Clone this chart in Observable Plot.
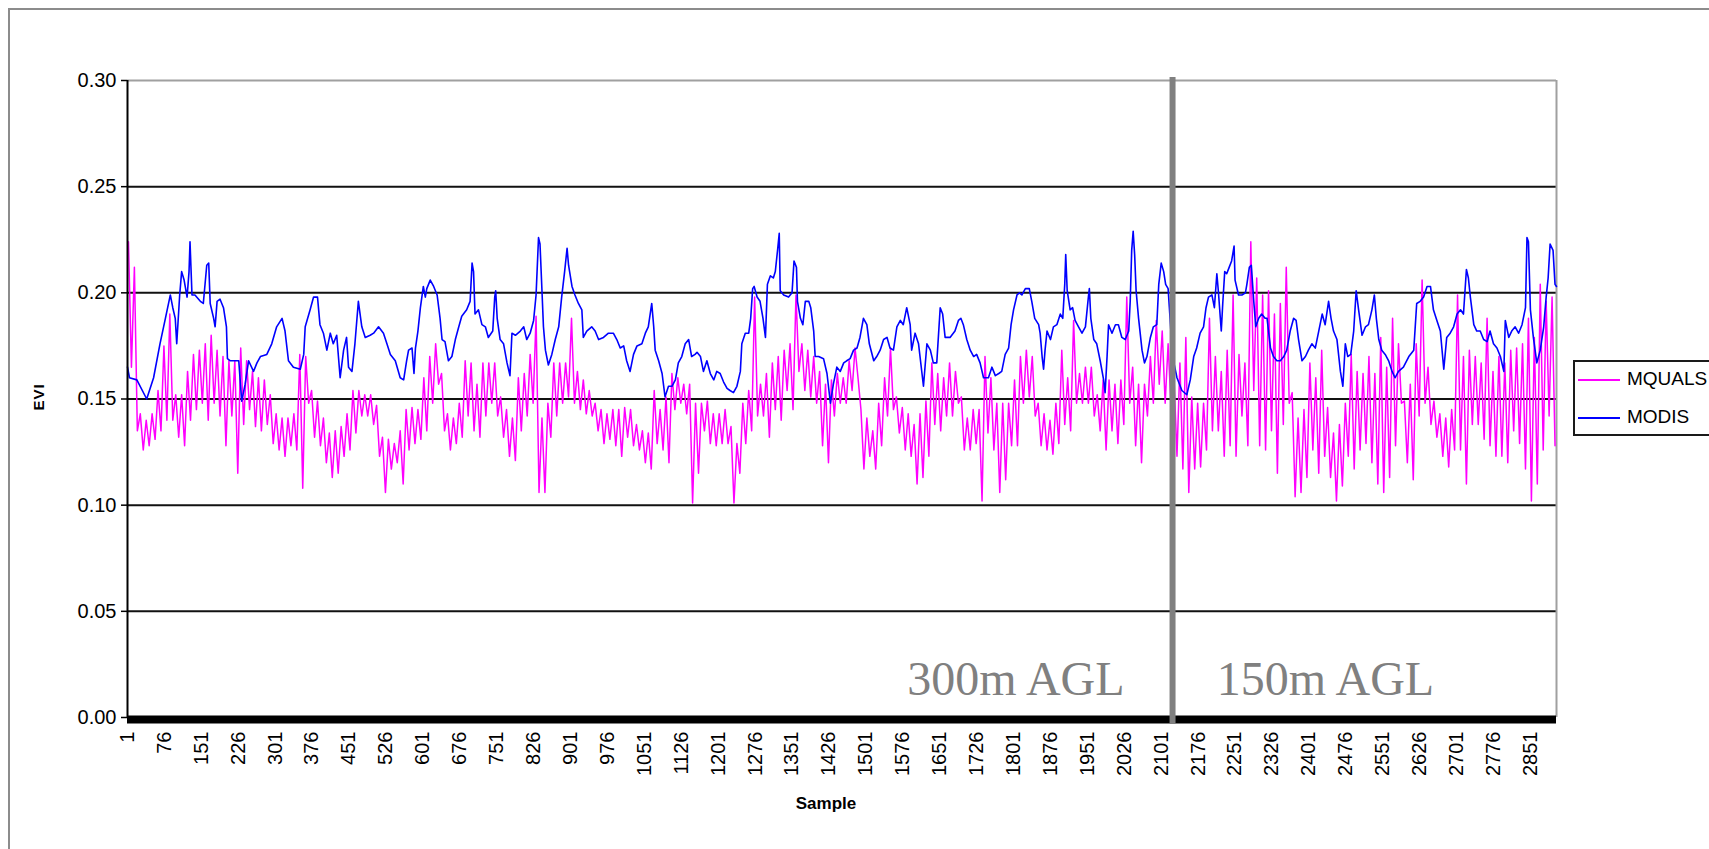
<!DOCTYPE html>
<html>
<head>
<meta charset="utf-8">
<script src="https://cdn.jsdelivr.net/npm/d3@7"></script>
<script src="https://cdn.jsdelivr.net/npm/@observablehq/plot@0.6"></script>
<style>
  html, body { margin: 0; padding: 0; background: #fff; overflow: hidden; }
  #wrap { position: relative; width: 1709px; height: 849px; overflow: hidden; }
  #frame { position: absolute; left: 8px; top: 8px; width: 1800px; height: 900px;
           border: 2px solid #8c8c8c; box-sizing: border-box; }
  #chart { position: absolute; left: 0; top: 0; }
  .lbl { position: absolute; font-family: "Liberation Sans", Arial, sans-serif; font-weight: bold; color: #000; white-space: nowrap; }
  #ylab { left: 38px; top: 397px; font-size: 15px; transform: translate(-50%, -50%) rotate(-90deg); letter-spacing: 1px; }
  #xlab { left: 826px; top: 804px; font-size: 17px; transform: translate(-50%, -50%); }
  #legend { position: absolute; left: 1573px; top: 360px; width: 200px; height: 76px;
            border: 2px solid #1a1a1a; box-sizing: border-box; background: #fff;
            font-family: "Liberation Sans Narrow", "Arial Narrow", "Liberation Sans", Arial, sans-serif; font-size: 19px; }
  .item { position: absolute; left: 3px; height: 20px; }
  .item .sw { position: absolute; left: 0; top: 9px; width: 42px; height: 0; border-top: 2px solid; }
  .item .tx { position: absolute; left: 49px; top: -1px; line-height: 20px; }
</style>
</head>
<body>
<div id="wrap">
  <div id="frame"></div>
  <div id="chart"></div>
  <div class="lbl" id="ylab">EVI</div>
  <div class="lbl" id="xlab">Sample</div>
  <div id="legend"></div>
</div>
<script>
// Series names and colours
const seriesNames = ["MQUALS", "MODIS"];
const seriesColors = ["#ff00ff", "#0000ff"];

// Axis ticks
const yTicks = [0, 0.05, 0.10, 0.15, 0.20, 0.25, 0.30];
const xTicks = [1, 76, 151, 226, 301, 376, 451, 526, 601, 676, 751, 826, 901, 976, 1051, 1126, 1201,
  1276, 1351, 1426, 1501, 1576, 1651, 1726, 1801, 1876, 1951, 2026, 2101, 2176, 2251, 2326, 2401,
  2476, 2551, 2626, 2701, 2776, 2851];
const sampleCount = 2904;

// Flight altitude change (sample where 300 m AGL switches to 150 m AGL)
const altitudeSwitch = 2124;
const altitudeLabels = [
  { text: "300m AGL", sample: 1585, evi: 0.0105 },
  { text: "150m AGL", sample: 2214, evi: 0.0105 }
];

// MODIS EVI (x1000) at the listed sample numbers
const modisSample = [1,5,20,40,54,67,78,88,93,98,101,107,111,116,122,126,128,132,138,149,155,162,166,169,176,179,183,189,196,202,204,210,227,233,240,247,257,264,271,284,294,304,315,321,328,338,352,359,362,372,379,387,392,399,406,413,419,426,433,440,446,450,457,463,470,477,484,494,501,511,521,528,535,545,555,562,568,
  572,579,583,586,591,596,602,606,609,616,623,630,636,640,646,653,660,667,674,680,690,697,701,704,707,714,721,728,734,743,747,749,752,758,765,772,778,782,789,799,806,812,819,826,831,836,839,843,846,850,856,863,870,877,883,889,894,897,904,910,917,924,927,934,944,951,958,968,978,988,995,1002,1009,1015,1022,1029,1036,1046,1053,1059,1066,1070,1073,1080,1087,1093,1100,1107,1114,1120,1127,1134,1141,1147,1154,
  1158,1165,1171,1178,1185,1192,1198,1205,1212,1219,1225,1232,1239,1246,1249,1256,1263,1267,1271,1274,1280,1286,1292,1297,1301,1307,1313,1317,1322,1325,1327,1334,1344,1351,1355,1360,1362,1368,1373,1378,1385,1389,1395,1398,1405,1415,1422,1429,1435,1442,1449,1456,1462,1469,1476,1483,1489,1496,1503,1508,1517,1523,1530,1537,1544,1550,1557,1564,1571,1577,1584,1591,1594,1601,1608,1615,1618,1625,1632,1638,1645,1652,1657,1662,1672,1682,1689,1694,1699,1706,1713,1720,1726,1733,1740,
  1744,1750,1757,1764,1771,1777,1784,1791,1796,1801,1808,1813,1818,1825,1833,1838,1844,1852,1855,1859,1862,1865,1869,1876,1882,1889,1896,1901,1905,1907,1910,1916,1921,1926,1933,1940,1947,1953,1955,1958,1964,1970,1977,1984,1987,1991,1994,2001,2008,2014,2021,2028,2035,2038,2041,2044,2047,2050,2055,2062,2067,2072,2079,2085,2092,2096,2101,2106,2110,2115,2124,2133,2143,2153,2160,2167,2173,2180,2187,2192,2197,2204,2209,2214,2217,2223,2226,2230,2234,2239,2244,2249,2251,2258,2265,2272,2275,2280,2284,2289,2293,2299,2305,2312,
  2316,2323,2329,2336,2343,2350,2356,2363,2370,2375,2380,2387,2394,2400,2407,2414,2421,2428,2434,2441,2446,2451,2458,2465,2470,2475,2480,2486,2492,2497,2502,2509,2516,2522,2529,2534,2538,2543,2549,2556,2563,2570,2576,2583,2593,2604,2614,2620,2627,2634,2641,2648,2654,2661,2668,2675,2681,2688,2695,2702,2709,2715,2721,2725,2729,2736,2742,2749,2756,2763,2769,2776,2783,2790,2797,2800,2807,2813,2820,2827,2834,2841,2844,2847,2851,2857,2864,2871,2878,2883,2887,2891,2897,2901,2904];
const modisEvi = [165,160,159,150,160,176,188,199,193,188,176,199,210,206,198,210,224,199,199,196,195,213,214,195,188,184,196,197,193,184,169,168,168,149,157,168,163,167,170,171,176,184,188,182,168,165,164,171,184,192,198,198,185,181,173,181,176,180,160,173,179,165,163,176,196,184,179,180,181,184,181,176,171,168,160,159,168,
  173,174,162,174,182,193,203,198,202,206,203,199,188,178,177,168,170,178,184,189,192,196,214,210,190,192,185,184,179,182,198,201,188,178,176,167,161,181,180,182,184,178,181,187,199,226,223,201,184,173,166,171,178,184,198,210,221,213,203,199,195,192,179,182,184,182,178,179,181,181,178,174,175,168,163,171,175,176,181,184,195,184,173,168,162,151,156,156,159,167,170,176,178,170,171,
  172,170,163,168,162,159,163,162,158,155,154,153,156,163,176,181,181,188,202,203,198,196,188,179,204,208,207,210,221,228,201,199,198,200,215,212,196,188,185,196,196,193,182,170,170,169,162,148,157,165,163,167,168,169,173,174,179,188,185,176,168,170,173,178,179,174,173,184,187,185,193,185,173,181,176,162,156,176,173,167,167,193,190,179,179,182,187,188,185,178,173,170,171,167,160,
  160,160,165,161,162,163,171,174,185,192,199,200,199,202,202,196,188,185,181,170,164,173,182,178,184,185,190,188,204,218,201,192,193,187,184,181,184,198,202,188,178,176,168,159,153,170,185,181,185,185,179,178,182,196,220,229,218,201,188,173,167,170,179,184,185,204,214,210,204,202,170,160,154,152,159,170,174,181,184,193,198,199,193,209,201,182,195,210,209,212,215,222,206,199,199,200,204,212,213,196,184,188,190,188,
  188,174,170,168,168,170,173,182,188,187,178,168,170,173,176,174,182,190,185,196,188,182,178,163,156,176,170,171,182,201,192,180,184,185,192,199,188,178,173,171,168,163,160,163,165,170,173,195,196,198,203,203,192,187,182,164,179,181,184,190,192,190,211,207,198,185,182,182,178,177,182,176,174,170,163,187,179,182,184,181,185,193,226,224,192,179,167,173,184,198,207,223,220,204,203];

// MQUALS EVI (x1000): highest and lowest value in each run of 12 samples
const binSize = 12;
const mqHigh = [224,212,143,140,143,154,175,190,152,152,163,171,173,176,180,173,170,168,168,174,168,163,160,159,152,143,141,141,143,171,170,154,149,141,134,135,137,143,154,154,152,152,147,132,131,129,135,145,
  146,145,160,170,176,162,143,141,148,168,167,157,167,167,167,151,145,141,160,162,171,189,141,148,167,167,167,188,163,159,154,148,145,143,145,145,146,145,138,135,134,154,145,151,162,160,157,157,148,
  148,149,143,143,145,137,129,148,154,198,157,162,167,170,173,176,199,176,173,170,163,157,159,162,160,168,174,145,141,135,148,160,174,151,146,143,138,143,149,167,162,160,167,163,151,141,145,145,
  170,160,148,148,148,159,170,173,170,148,143,140,148,173,160,187,162,165,165,152,159,159,157,159,198,165,157,157,170,187,182,176,160,167,179,151,148,148,188,170,163,173,199,171,167,224,207,199,201,
  190,195,212,153,141,145,167,160,173,146,134,138,148,171,163,162,170,162,179,165,188,176,149,157,176,206,165,149,143,141,145,199,170,173,170,167,188,163,170,167,173,174,176,188,179,204,196,198];
const mqLow = [165,135,126,128,131,135,140,140,132,128,140,145,148,140,148,142,128,142,115,138,145,137,135,138,129,126,123,128,126,108,148,132,128,120,113,115,123,126,134,142,142,138,123,106,117,120,110,126,
  129,131,135,148,157,135,126,129,132,142,135,132,142,148,142,132,123,121,135,142,148,106,106,132,142,148,151,148,145,143,142,135,129,131,128,123,132,128,126,120,117,129,126,120,145,148,143,101,115,
  135,129,128,129,129,101,115,129,135,142,142,132,145,140,154,145,163,154,151,148,128,120,142,148,148,154,160,117,123,117,128,142,145,134,126,123,110,113,123,138,135,142,142,148,126,126,129,102,
  134,126,106,112,128,128,148,151,142,128,126,124,129,138,135,148,148,148,142,135,126,135,129,138,148,128,120,142,148,157,148,146,123,117,106,117,118,126,135,135,123,128,123,142,128,154,128,126,135,
  115,138,148,104,106,113,126,115,123,113,102,109,123,117,126,129,120,110,106,113,128,148,120,112,142,148,138,132,123,118,126,126,110,138,138,131,128,123,123,120,135,129,117,102,110,126,142,128];

// Build plotting tables
const modis = modisSample.map((s, i) => ({ sample: s, evi: modisEvi[i] / 1000 }));
const mquals = mqHigh.flatMap((h, i) => [
  { sample: 1 + binSize * i + 2, evi: h / 1000 },
  { sample: 1 + binSize * i + 8, evi: mqLow[i] / 1000 }
]);
const gridValues = yTicks.filter(v => v > 0 && v < 0.30);

const tickFont = '"Liberation Sans Narrow", "Arial Narrow", "Liberation Sans", Arial, sans-serif';

const chart = Plot.plot({
  width: 1709,
  height: 849,
  marginLeft: 127,
  marginRight: 153,
  marginTop: 80,
  marginBottom: 132,
  x: { domain: [1, sampleCount], axis: null },
  y: { domain: [0, 0.30], axis: null },
  style: { background: "transparent", fontFamily: tickFont, color: "#000" },
  marks: [
    // horizontal gridlines
    Plot.ruleY(gridValues, { stroke: "#111", strokeWidth: 2 }),
    // plot area border (top and right)
    Plot.ruleY([0.30], { stroke: "#a0a0a0", strokeWidth: 2 }),
    Plot.ruleX([sampleCount], { stroke: "#a0a0a0", strokeWidth: 2 }),
    // series
    Plot.line(mquals, { x: "sample", y: "evi", stroke: seriesColors[0], strokeWidth: 1.5 }),
    Plot.line(modis, { x: "sample", y: "evi", stroke: seriesColors[1], strokeWidth: 1.6 }),
    // value axis
    Plot.ruleX([1], { stroke: "#000", strokeWidth: 2 }),
    Plot.axisY(yTicks, { label: null, tickFormat: d3.format(".2f"), tickSize: 6, tickPadding: 5, fontSize: 20, strokeWidth: 1.5 }),
    // category axis: heavy baseline and rotated sample labels
    Plot.ruleY([0], { stroke: "#000", strokeWidth: 8, dy: 2 }),
    Plot.axisX(xTicks, { label: null, tickFormat: d3.format("d"), tickRotate: -90, tickSize: 0, tickPadding: 14, fontSize: 20 }),
    // altitude switch divider and labels
    Plot.ruleX([altitudeSwitch], { stroke: "#808080", strokeWidth: 6, insetTop: -3, insetBottom: -6 }),
    Plot.text(altitudeLabels, { x: "sample", y: "evi", text: "text", textAnchor: "start", lineAnchor: "bottom",
      fontSize: 48, fontFamily: '"Liberation Serif", "Times New Roman", serif', fill: "#808080" })
  ]
});
document.getElementById("chart").appendChild(chart);

// Legend
const legend = document.getElementById("legend");
seriesNames.forEach((name, i) => {
  const item = document.createElement("div");
  item.className = "item";
  item.style.top = (i === 0 ? 8 : 46) + "px";
  item.innerHTML = `<div class="sw" style="border-color:${seriesColors[i]}"></div><div class="tx">${name}</div>`;
  legend.appendChild(item);
});
</script>
</body>
</html>
